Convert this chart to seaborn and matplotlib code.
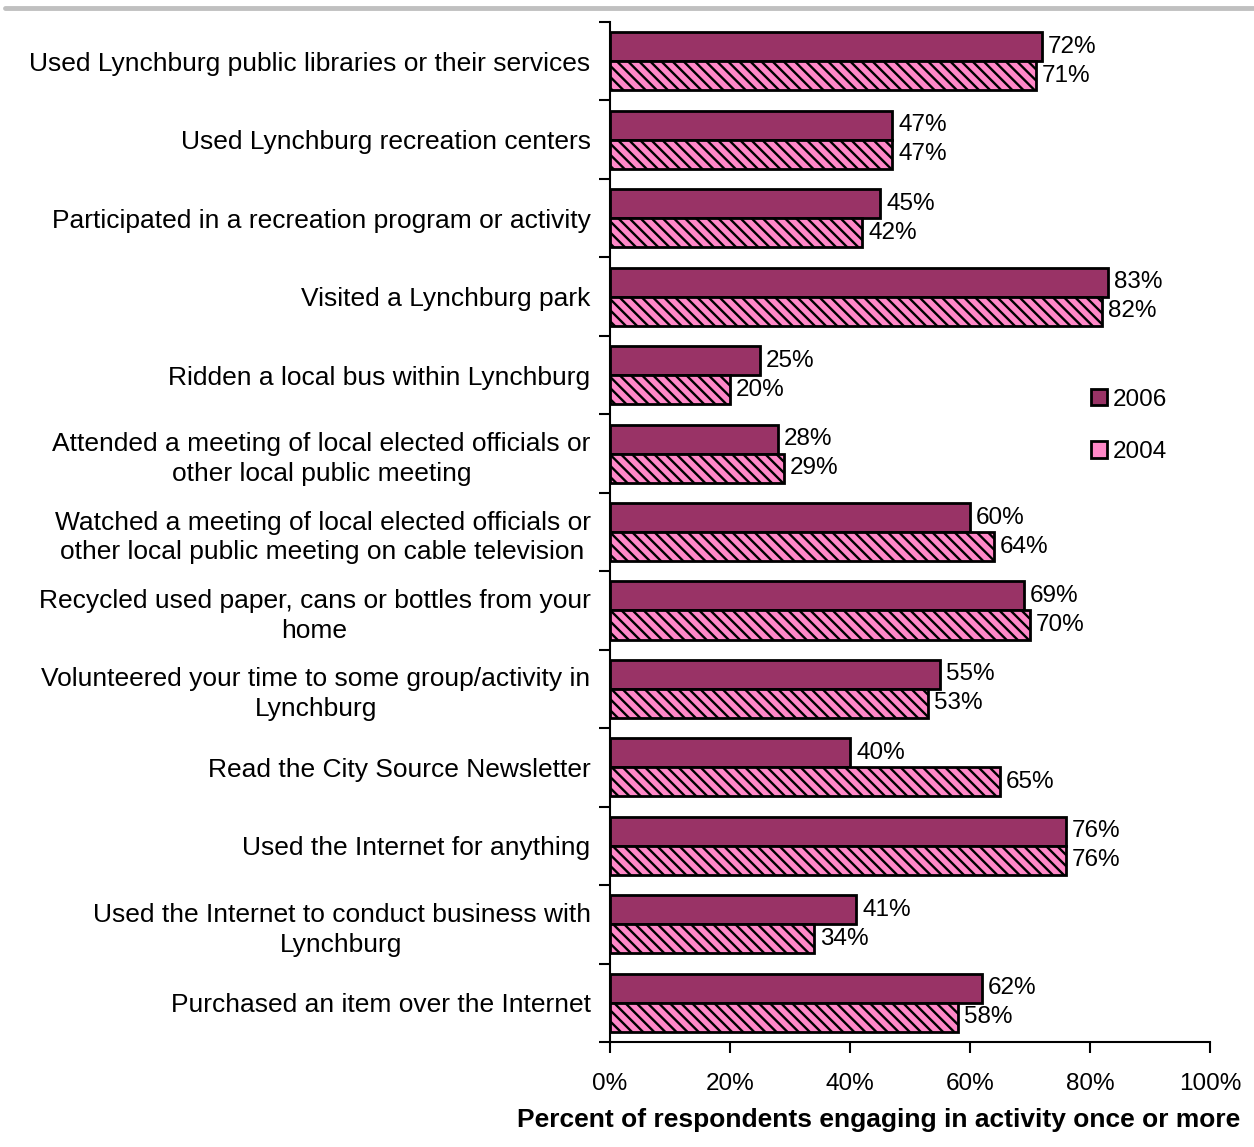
import matplotlib
matplotlib.use("Agg")
import matplotlib.pyplot as plt
from matplotlib.ticker import FixedLocator, PercentFormatter
import seaborn as sns
import pandas as pd

activities = [
    "Used Lynchburg public libraries or their services",
    "Used Lynchburg recreation centers",
    "Participated in a recreation program or activity",
    "Visited a Lynchburg park",
    "Ridden a local bus within Lynchburg",
    "Attended a meeting of local elected officials or\nother local public meeting",
    "Watched a meeting of local elected officials or\nother local public meeting on cable television",
    "Recycled used paper, cans or bottles from your\nhome",
    "Volunteered your time to some group/activity in\nLynchburg",
    "Read the City Source Newsletter",
    "Used the Internet for anything",
    "Used the Internet to conduct business with\nLynchburg",
    "Purchased an item over the Internet",
]
values_2006 = [72, 47, 45, 83, 25, 28, 60, 69, 55, 40, 76, 41, 62]
values_2004 = [71, 47, 42, 82, 20, 29, 64, 70, 53, 65, 76, 34, 58]
years = ["2006", "2004"]

df = pd.DataFrame({
    "activity": activities * 2,
    "year": [years[0]] * len(activities) + [years[1]] * len(activities),
    "pct": values_2006 + values_2004,
})

sns.set_theme(style="white")
plt.rcParams["font.family"] = ["Liberation Sans", "DejaVu Sans"]
plt.rcParams["text.color"] = "black"
plt.rcParams["xtick.labelcolor"] = "black"
plt.rcParams["ytick.labelcolor"] = "black"
plt.rcParams["hatch.color"] = "#993366"
plt.rcParams["hatch.linewidth"] = 1.7

LABEL_FS = 19
NUM_FS = 17.5

fig = plt.figure(figsize=(12.54, 11.47), dpi=100)
ax = fig.add_axes([0.4864, 0.0915, 0.4785, 0.8893])

palette = {"2006": "#993366", "2004": "#FF88C8"}
sns.barplot(data=df, y="activity", x="pct", hue="year", hue_order=years,
            order=activities, palette=palette, width=0.74, orient="h",
            saturation=1, edgecolor="black", linewidth=2, ax=ax, legend=True)

# hatch the 2004 bars and write the value next to every bar
for cont, yr in zip(ax.containers, years):
    for bar in cont:
        if yr == "2004":
            bar.set_hatch("\\\\\\")
    ax.bar_label(cont, labels=[f"{int(round(v))}%" for v in cont.datavalues],
                 padding=4.5, fontsize=NUM_FS, color="black")

ax.set_xlim(0, 100)
ax.set_ylim(len(activities) - 0.5, -0.5)
ax.xaxis.set_major_locator(FixedLocator([0, 20, 40, 60, 80, 100]))
ax.xaxis.set_major_formatter(PercentFormatter(decimals=0))
ax.set_xlabel("")
ax.set_ylabel("")

# category boundaries carry the y tick marks
ax.yaxis.set_minor_locator(FixedLocator([i - 0.5 for i in range(len(activities) + 1)]))
ax.tick_params(axis="y", which="major", length=0, pad=14, labelsize=LABEL_FS)
ax.tick_params(axis="y", which="minor", length=8, width=1.5, color="black", left=True)
ax.tick_params(axis="x", which="major", length=8, width=1.5, color="black",
               bottom=True, pad=14, labelsize=NUM_FS)
for lbl in ax.get_yticklabels():
    lbl.set_horizontalalignment("right")
    lbl.set_multialignment("center")
    lbl.set_linespacing(1.3)

for side in ["top", "right"]:
    ax.spines[side].set_visible(False)
for side in ["left", "bottom"]:
    ax.spines[side].set_color("black")
    ax.spines[side].set_linewidth(1.5)

leg = ax.legend(loc="upper left", bbox_to_anchor=(0.765, 0.662), frameon=False,
                fontsize=NUM_FS, handlelength=0.65, handleheight=0.65,
                labelspacing=1.25, handletextpad=0.25)
for h in leg.legend_handles:
    h.set_edgecolor("black")
    h.set_linewidth(2)

fig.text(1240 / 1254, 1 - 1120 / 1147,
         "Percent of respondents engaging in activity once or more",
         ha="right", va="center", fontsize=LABEL_FS, fontweight="bold")

# grey rule across the top
fig.add_artist(plt.Line2D([5 / 1254, 1.0], [1 - 8 / 1147] * 2,
                          color="#C0C0C0", linewidth=3.5,
                          transform=fig.transFigure))

fig.savefig("out.png", dpi=100)
